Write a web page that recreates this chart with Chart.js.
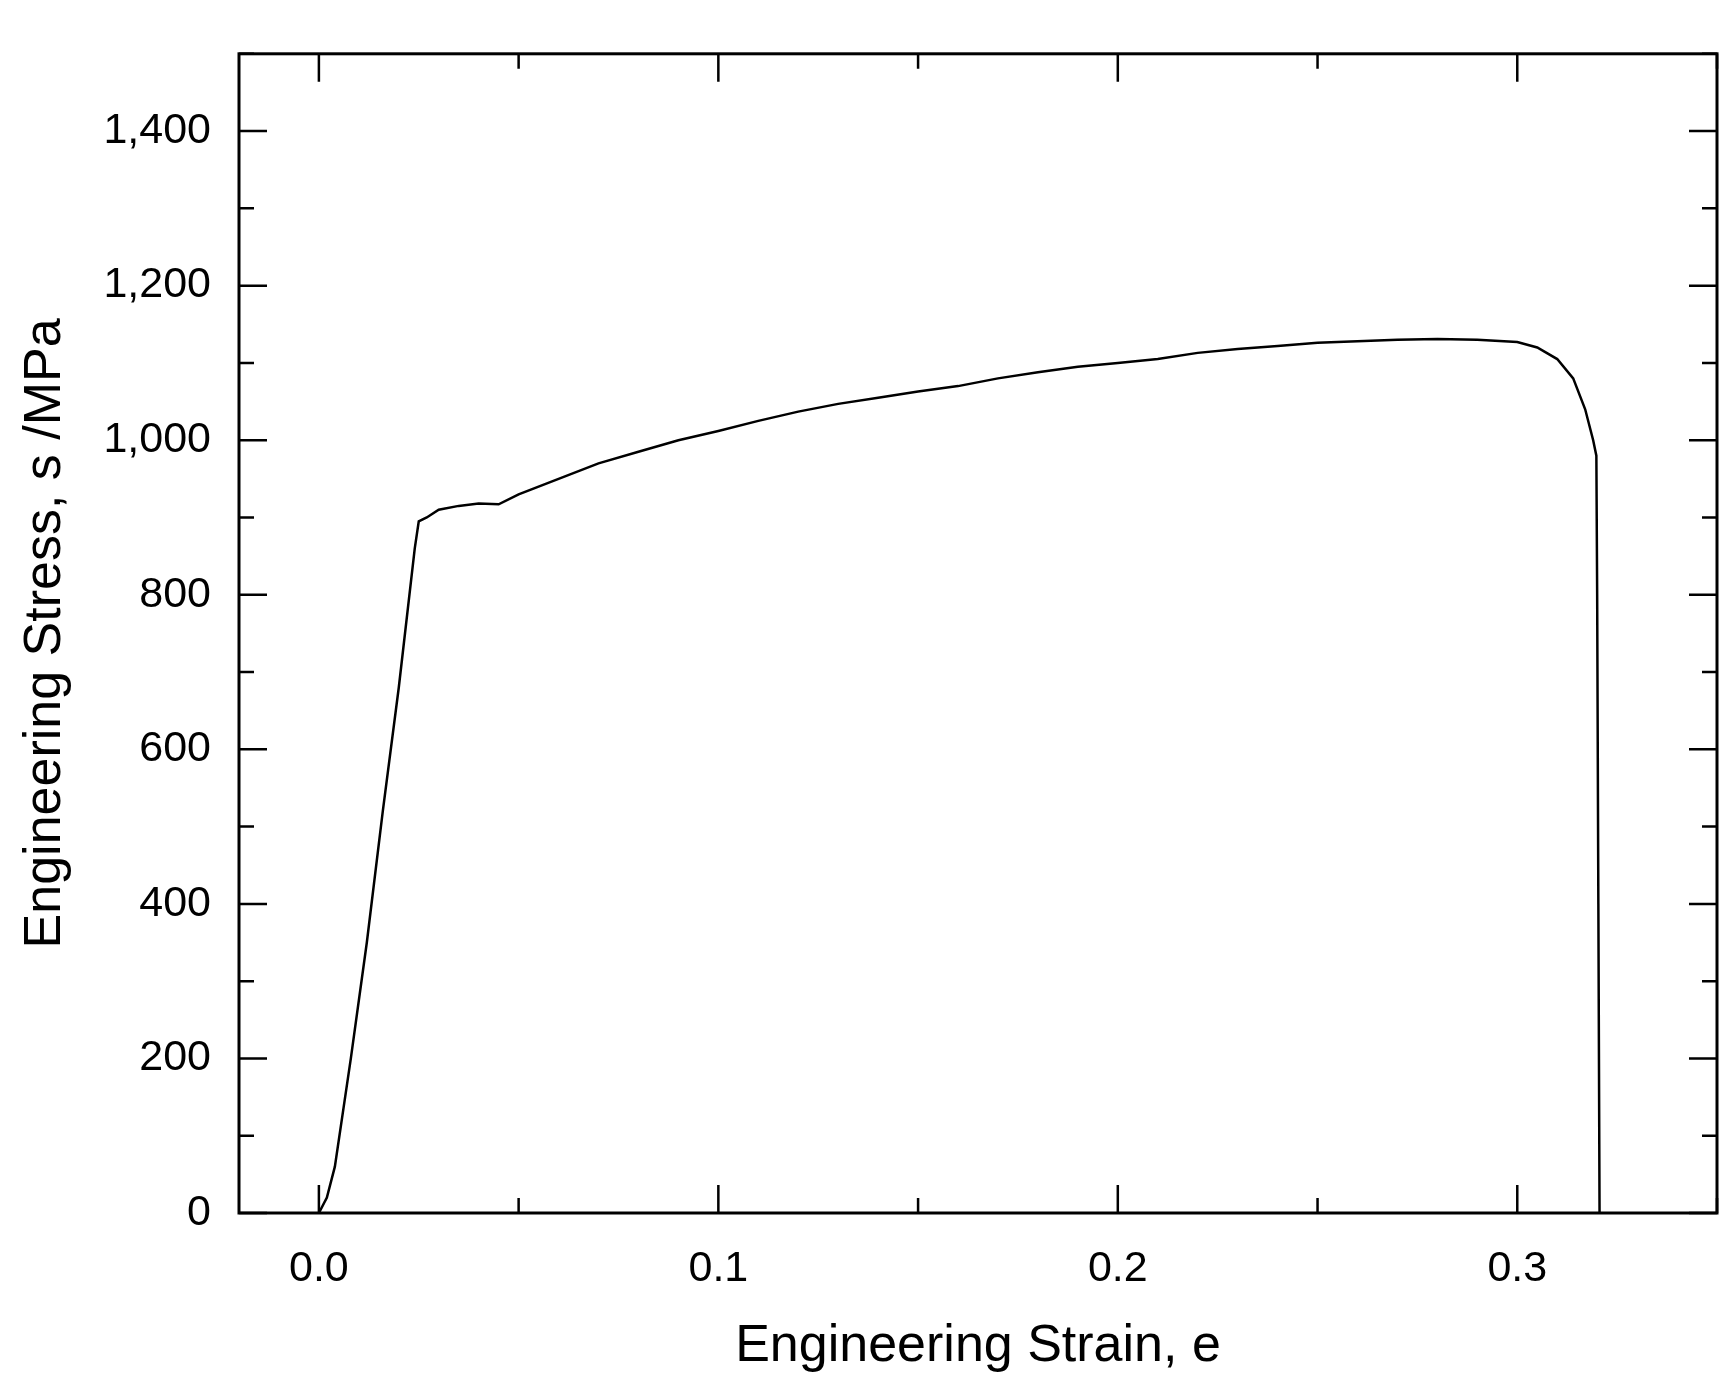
<!DOCTYPE html>
<html><head><meta charset="utf-8">
<script src="https://cdn.jsdelivr.net/npm/chart.js@4/dist/chart.umd.min.js"></script>
<style>html,body{margin:0;padding:0;background:#fff}#wrap{width:1735px;height:1400px}</style>
</head><body><div id="wrap"><canvas id="c"></canvas></div>
<script>
const strain = [0.0,0.002,0.004,0.008,0.012,0.016,0.020,0.024,0.025,0.027,0.030,0.035,0.040,0.045,0.050,0.060,0.070,0.080,0.090,0.100,0.110,0.120,0.130,0.140,0.150,0.160,0.170,0.180,0.190,0.200,0.210,0.220,0.230,0.240,0.250,0.260,0.270,0.280,0.290,0.300,0.305,0.310,0.314,0.317,0.319,0.3198,0.3200,0.3203,0.3206];
const stress = [0,20,60,200,350,520,680,860,895,900,910,915,918,917,930,950,970,985,1000,1012,1025,1037,1047,1055,1063,1070,1080,1088,1095,1100,1105,1113,1118,1122,1126,1128,1130,1131,1130,1127,1120,1105,1080,1040,1000,980,800,400,0];
const xTicks = [0.0,0.1,0.2,0.3];
const yTicks = [0,200,400,600,800,1000,1200,1400];
const xTitle = "Engineering Strain, e";
const yTitle = "Engineering Stress, s /MPa";

const frame = {
  id:'frame',
  afterDraw(ch){
    const {ctx, chartArea:a, scales:{x,y}} = ch;
    ctx.save(); ctx.strokeStyle='#000'; ctx.lineWidth=3;
    ctx.strokeRect(a.left,a.top,a.right-a.left,a.bottom-a.top);
    ctx.lineWidth=2.5;
    for(let v=0; v<=1500; v+=100){
      const p=y.getPixelForValue(v); const L = v%200===0?28:15;
      ctx.beginPath(); ctx.moveTo(a.left,p); ctx.lineTo(a.left+L,p);
      ctx.moveTo(a.right,p); ctx.lineTo(a.right-L,p); ctx.stroke();
    }
    for(let k=0;k<=7;k++){
      const v=k*0.05; const p=x.getPixelForValue(v); const L = k%2===0?28:15;
      ctx.beginPath(); ctx.moveTo(p,a.bottom); ctx.lineTo(p,a.bottom-L);
      ctx.moveTo(p,a.top); ctx.lineTo(p,a.top+L); ctx.stroke();
    }
    ctx.restore();
  }
};

new Chart(document.getElementById('c'),{
  type:'scatter',
  data:{datasets:[{data:strain.map((s,i)=>({x:s,y:stress[i]})),showLine:true,borderColor:'#000',borderWidth:2.5,pointRadius:0,tension:0}]},
  options:{
    responsive:true,maintainAspectRatio:false,animation:false,
    layout:{padding:{left:0,top:22,right:18,bottom:0}},
    plugins:{legend:{display:false},tooltip:{enabled:false}},
    scales:{
      x:{type:'linear',min:-0.02,max:0.35,
        afterBuildTicks(s){s.ticks=xTicks.map(v=>({value:v}));},
        afterFit(s){s.height=187;},
        grid:{display:false,drawTicks:false},border:{display:false},
        ticks:{padding:30,color:'#000',font:{family:'Liberation Sans',size:43},callback:v=>v.toFixed(1),maxRotation:0},
        title:{display:true,text:xTitle,color:'#000',font:{family:'Liberation Sans',size:52},padding:{top:0,bottom:22}}},
      y:{type:'linear',min:0,max:1500,
        afterBuildTicks(s){s.ticks=yTicks.map(v=>({value:v}));},
        afterFit(s){s.width=239;},
        grid:{display:false,drawTicks:false},border:{display:false},
        ticks:{padding:28,color:'#000',font:{family:'Liberation Sans',size:43}},
        title:{display:true,text:yTitle,color:'#000',font:{family:'Liberation Sans',size:52},padding:{top:14,bottom:0}}}
    }
  },
  plugins:[frame]
});
</script></body></html>
